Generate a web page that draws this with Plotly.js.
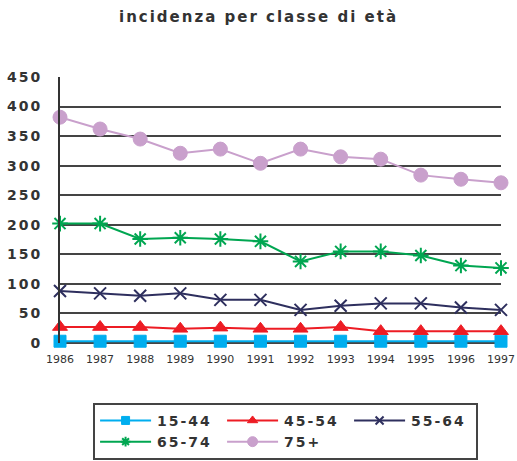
<!DOCTYPE html>
<html>
<head>
<meta charset="utf-8">
<script src="https://cdn.plot.ly/plotly-3.0.1.min.js"></script>
<style>
html,body{margin:0;padding:0;background:#fff;}
#chart{width:517px;height:461px;}
.ytick text,.legendtext,.gtitle{letter-spacing:2px;}
.legend .legendlines path{transform:translateX(-3.5px) scaleX(1.7);}
.legend .legendsymbols{transform:translateX(10.5px);}
.legend .legendtext{transform:translateX(22px);}
</style>
</head>
<body>
<div id="chart"></div>
<script>
const years = [1986,1987,1988,1989,1990,1991,1992,1993,1994,1995,1996,1997];
const seriesNames = ["15-44","45-54","55-64","65-74","75+"];
const v1544 = [3,3,3,3,3,3,3,3,3,3,3,3];
const v4554 = [27,27,27,24,26,24,24,27,20,20,20,20];
const v5564 = [88,84,80,84,73,73,56,63,67,67,60,56];
const v6574 = [202,202,176,178,176,172,138,155,155,148,131,127];
const v75p  = [382,362,345,321,328,304,328,315,311,284,277,271];
const yTicks = [0,50,100,150,200,250,300,350,400,450];

const colors = ["#00AEEF","#ED1C24","#2E2F5E","#00A651","#C9A0CC"];
const symbols = ["square","triangle-up","x-thin-open","asterisk-open","circle"];
const sizes = [12,13,12,13,14];
const legSizes = [8,9,8,8,10];
const vals = [v1544,v4554,v5564,v6574,v75p];

const traces = [];
vals.forEach((v,i)=>{
  traces.push({
    x: years, y: v, name: seriesNames[i], type:'scatter', mode:'lines+markers',
    cliponaxis:false, showlegend:false, legendgroup:seriesNames[i],
    line:{color:colors[i], width:2},
    marker:{symbol:symbols[i], size:sizes[i], color:colors[i], line:{color:colors[i], width:(i===2||i===3)?2:1}}
  });
});
vals.forEach((v,i)=>{
  traces.push({
    x: [null], y: [null], name: seriesNames[i], type:'scatter', mode:'lines+markers',
    showlegend:true, legendgroup:seriesNames[i],
    line:{color:colors[i], width:2},
    marker:{symbol:symbols[i], size:legSizes[i], color:colors[i], line:{color:colors[i], width:(i===2||i===3)?2:1}}
  });
});

const layout = {
  width:517, height:461,
  margin:{l:60, r:16, t:77, b:118, autoexpand:false},
  paper_bgcolor:'#fff', plot_bgcolor:'#fff',
  font:{family:'"DejaVu Sans", sans-serif', color:'#333'},
  title:{text:'incidenza per classe di età', x:0.5, xref:'container', xanchor:'center', y:0.963, yanchor:'middle',
    font:{size:15, family:'"DejaVu Sans", sans-serif', weight:'bold', color:'#333'}},
  xaxis:{range:[1986,1997], tickvals:years, ticktext:years.map(String), showgrid:false, zeroline:false,
    showline:false, ticks:'', tickfont:{size:11, color:'#333'}, ticklabelstandoff:8},
  yaxis:{range:[0,450], tickvals:yTicks, showgrid:true, gridcolor:'#444', gridwidth:2,
    zeroline:true, zerolinecolor:'#444', zerolinewidth:2,
    showline:true, linecolor:'#333', linewidth:2, ticks:'',
    tickfont:{size:14, weight:'bold', color:'#333'}, ticklabelstandoff:13},
  showlegend:true,
  legend:{orientation:'h', x:0.075, xanchor:'left', y:-0.225, yanchor:'top',
    entrywidth:82, entrywidthmode:'pixels', bgcolor:'#fff', bordercolor:'#444', borderwidth:2,
    font:{size:14, weight:'bold', color:'#333'}, traceorder:'normal', tracegroupgap:0}
};
Plotly.newPlot('chart', traces, layout, {displayModeBar:false, staticPlot:true});
</script>
</body>
</html>
